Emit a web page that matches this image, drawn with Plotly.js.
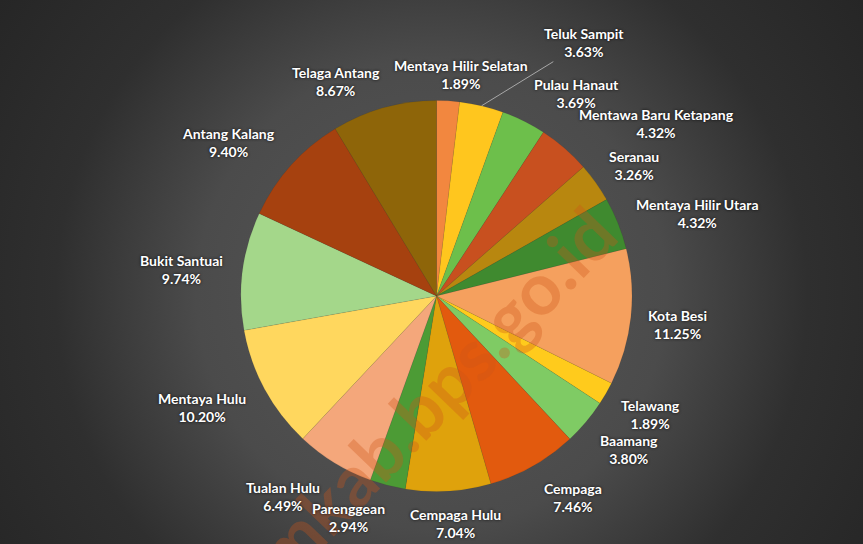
<!DOCTYPE html>
<html><head><meta charset="utf-8">
<script src="https://cdn.plot.ly/plotly-3.0.1.min.js"></script>
<style>
html,body{margin:0;padding:0;background:#262626;overflow:hidden;}
#chart{width:863px;height:544px;background:radial-gradient(circle farthest-corner at 50% 54%, #585858 0%, #4b4b4b 45%, #2f2f2f 72%, #262626 100%);}
</style></head><body><div id="chart"></div>
<script>
// ---- data ----
const districts = ["Mentaya Hilir Selatan","Teluk Sampit","Pulau Hanaut","Mentawa Baru Ketapang","Seranau","Mentaya Hilir Utara","Kota Besi","Telawang","Baamang","Cempaga","Cempaga Hulu","Parenggean","Tualan Hulu","Mentaya Hulu","Bukit Santuai","Antang Kalang","Telaga Antang"];
const shares = [1.89,3.63,3.69,4.32,3.26,4.32,11.25,1.89,3.80,7.46,7.04,2.94,6.49,10.20,9.74,9.40,8.67];
const watermark = "kotimkab.bps.go.id";

// ---- styles ----
const sliceColors = ["#F2873F","#FFC61E","#6DBF4B","#C8501F","#B8870F","#3F8A2F","#F5A05E","#FFCB1C","#7FCB64","#E25A0E","#DFA20C","#4C9B35","#F4A77B","#FFD75E","#A4D78A","#A6410F","#8E6509"];
// label placement (angle shift in degrees, distance as multiple of radius)
const labelShift = [2.8,16.9,8.1,10.9,1.9,4.3,0.5,-1,-1.7,-4.4,-1.3,7.1,6,3,-1.4,-5.5,-9.6];
const labelDist  = [1.14,1.50,1.26,1.43,1.21,1.40,1.24,1.25,1.26,1.245,1.17,1.22,1.29,1.33,1.31,1.32,1.21];
const leaderIdx = [1];

const W = 863, H = 544;
const cx = 436.5, cy = 296, R = 195.5;
const dom = {x:[(cx-R)/W,(cx+R)/W], y:[(H-cy-R)/H,(H-cy+R)/H]};

const total = shares.reduce((a,b)=>a+b,0);
let cum = 0;
const mids = shares.map(v=>{const m=(cum+v/2)/total*360; cum+=v; return m;});
const toPaper = (px,py)=>({x:px/W, y:1-py/H});
const polar = (deg,r)=>{const a=deg*Math.PI/180; return [cx+r*R*Math.sin(a), cy-r*R*Math.cos(a)];};

const labelFont = {family:"Lato, 'Open Sans', sans-serif", size:14, color:"#ffffff", weight:"bold", shadow:"0px 0px 3px rgba(0,0,0,0.9)"};

const annotations = [];
const wm = toPaper(392,436);
annotations.push({x:wm.x, y:wm.y, xref:"paper", yref:"paper", xanchor:"center", yanchor:"middle", text:watermark, showarrow:false, textangle:-46,
  font:{family:"Lato, sans-serif", size:72, weight:"bold", color:"rgba(205,85,25,0.33)"}});

districts.forEach((name,i)=>{
  const [lx,ly] = polar(mids[i]+labelShift[i], labelDist[i]);
  const txt = name + "<br>" + shares[i].toFixed(2) + "%";
  if (leaderIdx.includes(i)) {
    const [ex,ey] = polar(mids[i], 1.0);
    const p = toPaper(ex,ey);
    annotations.push({x:p.x, y:p.y, xref:"paper", yref:"paper", text:txt, showarrow:true, arrowhead:0, arrowwidth:1, arrowcolor:"#a8a8a8", standoff:0, ax:lx-ex, ay:ly-ey, font:labelFont, align:"center"});
    return;
  }
  const p = toPaper(lx,ly);
  annotations.push({x:p.x, y:p.y, xref:"paper", yref:"paper", text:txt, showarrow:false, font:labelFont, align:"center", xanchor:"center", yanchor:"middle"});
});

const trace = {
  type:"pie", labels:districts, values:shares, sort:false, direction:"clockwise", rotation:0,
  marker:{colors:sliceColors, line:{color:"rgba(0,0,0,0.12)", width:0.5}},
  textinfo:"none", hoverinfo:"label+percent", showlegend:false, domain:dom
};

Plotly.newPlot("chart",[trace],{
  width:W, height:H, margin:{l:0,r:0,t:0,b:0},
  paper_bgcolor:"rgba(0,0,0,0)", plot_bgcolor:"rgba(0,0,0,0)",
  showlegend:false, annotations:annotations
},{displayModeBar:false, staticPlot:true});
</script></body></html>
